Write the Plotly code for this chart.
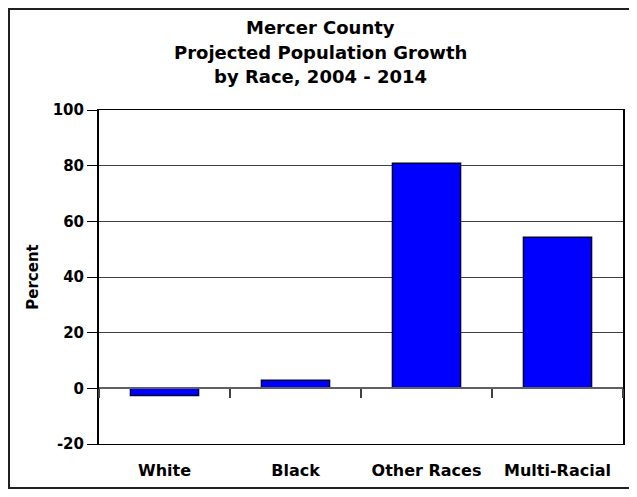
import plotly.graph_objects as go

races = ["White", "Black", "Other Races", "Multi-Racial"]
growth = [-2.6, 2.9, 80.9, 54.3]
y_ticks = [-20, 0, 20, 40, 60, 80, 100]
y_tick_text = ["-20", "0", "20", "40", "60", "80", "100"]
title_lines = ["Mercer County", "Projected Population Growth", "by Race, 2004 - 2014"]

font_name = "Comic Sans MS, DejaVu Sans, sans-serif"
bold = dict(family=font_name, size=15, color="black", weight="bold")

# the page body adds 8px around the figure, so the figure itself is 8px smaller
W, H = 637 - 8, 497 - 8
# plot area in page pixels: x 99..623, y 110..444
L, R, T, B = 99, 623, 110, 444

fig = go.Figure()
fig.add_trace(go.Bar(x=races, y=growth, width=0.52,
                     marker=dict(color="#0000FF", line=dict(color="#000033", width=1.5)),
                     showlegend=False, hoverinfo="x+y"))
# axis crossing at zero, ticks between categories
fig.add_trace(go.Scatter(x=races, y=[None] * len(races), xaxis="x2",
                         showlegend=False, hoverinfo="skip"))


def px_x(p):
    return (p - L) / (R - L)


def px_y(p):
    return (B - p) / (B - T)


annotations = []
for i, line in enumerate(title_lines):
    annotations.append(dict(text=line, x=px_x(320), y=px_y(27 + 25 * i),
                            xref="paper", yref="paper", showarrow=False,
                            xanchor="center", yanchor="middle",
                            font=dict(family=font_name, size=18, color="black", weight="bold")))

fig.update_layout(
    width=W, height=H,
    paper_bgcolor="white", plot_bgcolor="white",
    margin=dict(l=L - 8, r=W - (R - 8), t=T - 8, b=H - (B - 8), autoexpand=False),
    font=dict(family=font_name, color="black", size=15),
    annotations=annotations,
    xaxis=dict(showline=True, linecolor="black", linewidth=1, mirror=True,
               ticks="", showgrid=False, automargin=False, ticklabelstandoff=12,
               tickfont=dict(family=font_name, size=16, color="black", weight="bold")),
    xaxis2=dict(matches="x", overlaying="x", anchor="free", position=1 / 6,
                showticklabels=False, ticks="outside", tickson="boundaries",
                ticklen=9, tickwidth=2, tickcolor="#404040", automargin=False,
                showline=True, linecolor="#606060", linewidth=2, showgrid=False),
    yaxis=dict(range=[-20, 100], tickvals=y_ticks, ticktext=y_tick_text,
               showline=True, linecolor="black", linewidth=2, mirror=True,
               ticks="outside", ticklen=10, tickcolor="black",
               showgrid=True, gridcolor="#404040", gridwidth=1,
               zeroline=False, automargin=False,
               tickfont=bold,
               title=dict(text="Percent", standoff=10, font=bold)),
    shapes=[dict(type="rect", xref="paper", yref="paper",
                 x0=px_x(9), x1=px_x(640), y0=px_y(488), y1=px_y(9),
                 line=dict(color="#202020", width=2), fillcolor="rgba(0,0,0,0)",
                 layer="below")],
)

fig.write_html("out.html")
